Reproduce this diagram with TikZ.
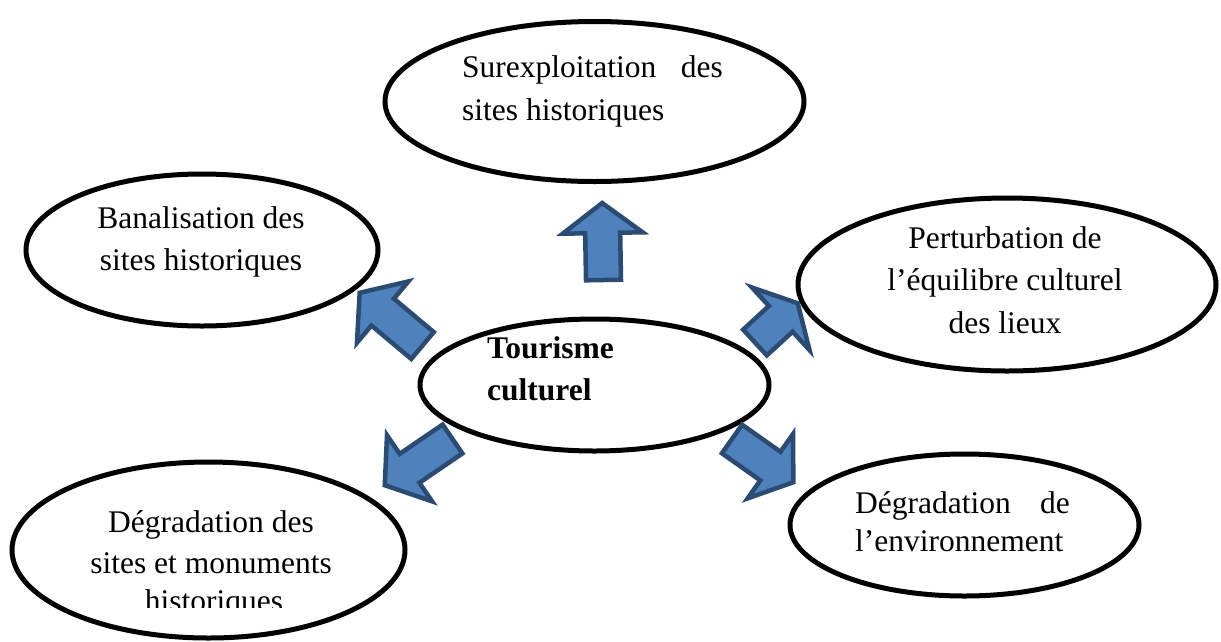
\documentclass[tikz,border=0pt]{standalone}
\usepackage{fontspec}
\setmainfont{Liberation Serif}
\usetikzlibrary{shapes.geometric}
\definecolor{arrowfill}{HTML}{4F81BD}
\definecolor{arrowline}{HTML}{2C4B72}
\newcommand{\blockarrow}[6]{%
  \begin{scope}[shift={(#1,#2)}, rotate=#3]
    \draw[barrow] (0,-17.5) -- ({#4-#5},-17.5) -- ({#4-#5},{-#6/2}) -- (#4,0)
      -- ({#4-#5},{#6/2}) -- ({#4-#5},17.5) -- (0,17.5) -- cycle;
  \end{scope}}
\begin{document}
\begin{tikzpicture}[x=1pt,y=-1pt,
  bubble/.style={ellipse, draw=black, line width=5pt, fill=white, inner sep=0pt},
  lbl/.style={inner sep=0pt, font=\fontsize{31.5}{42}\selectfont},
  barrow/.style={fill=arrowfill, draw=arrowline, line width=4.5pt, line join=miter}]
\useasboundingbox (0,0) rectangle (1221,641);
\fill[white] (0,0) rectangle (1221,641);

% ellipses
\node[bubble, minimum width=419pt, minimum height=160pt] (sur) at (594.5,101.5) {};
\node[bubble, minimum width=352pt, minimum height=152pt] (ban) at (202,250) {};
\node[bubble, minimum width=418pt, minimum height=173pt] (per) at (1007,284.5) {};
\node[bubble, minimum width=349pt, minimum height=132pt] (cen) at (594.5,385) {};
\node[bubble, minimum width=393pt, minimum height=176pt] (dsit) at (208.5,550) {};
\node[bubble, minimum width=349pt, minimum height=142pt] (denv) at (964.5,525) {};

% block arrows
\blockarrow{603.5}{280}{91}{77}{30}{80}
\blockarrow{422.5}{345.5}{140}{82}{30}{80}
\blockarrow{755}{342.5}{42.6}{58}{23}{85}
\blockarrow{452.5}{439}{-145.7}{82}{30}{80}
\blockarrow{732}{439}{-35.2}{75}{28}{79}

% texts
\node[lbl, anchor=base west] (sur1a) at (462,77) {Surexploitation};
\node[lbl, anchor=base east] (sur1b) at (723,77) {des};
\node[lbl, anchor=base west] (sur2) at (462,120) {sites historiques};

\node[lbl, anchor=base] (ban1) at (201,228) {Banalisation des};
\node[lbl, anchor=base] (ban2) at (201,270) {sites historiques};

\node[lbl, anchor=base] (per1) at (1005,248) {Perturbation de};
\node[lbl, anchor=base] (per2) at (1005,290.5) {l’équilibre culturel};
\node[lbl, anchor=base] (per3) at (1005,333) {des lieux};

\node[lbl, anchor=base west, font=\fontsize{31.5}{42}\selectfont\bfseries] (cen1) at (487,358) {Tourisme};
\node[lbl, anchor=base west, font=\fontsize{31.5}{42}\selectfont\bfseries] (cen2) at (487,400) {culturel};

\node[lbl, anchor=base] (dsit1) at (211,532) {Dégradation des};
\node[lbl, anchor=base] (dsit2) at (211,573) {sites et monuments};
\begin{scope}
  \clip (0,575) rectangle (420,607);
  \node[lbl, anchor=base] (dsit3) at (214,611) {historiques};
\end{scope}

\node[lbl, anchor=base west] (denv1a) at (855,513) {Dégradation};
\node[lbl, anchor=base east] (denv1b) at (1070,513) {de};
\node[lbl, anchor=base west] (denv2) at (855,551) {l’environnement};
\end{tikzpicture}
\end{document}
